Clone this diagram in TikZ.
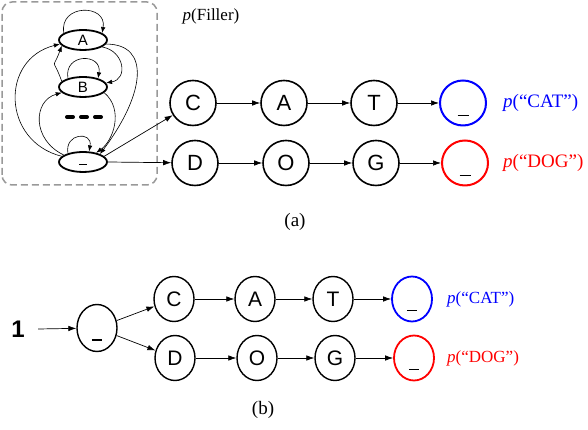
\documentclass[tikz,border=0pt]{standalone}
\usepackage{fontspec}
\setmainfont{Liberation Serif}
\newfontfamily\helv{Liberation Sans}
\usetikzlibrary{shapes.geometric, arrows.meta}
\newcommand{\prob}[1]{\textit{p}(#1)}
\newcommand{\blank}[1][-5.6pt]{\rule[#1]{0.5em}{1.5pt}}

\begin{document}
\begin{tikzpicture}[x=1pt, y=1pt, >={Latex[length=8pt, width=5.5pt]}]
  \tikzset{
    letter/.style={ellipse, draw, line width=1.6pt, minimum width=46pt, minimum height=45pt,
      inner sep=0pt, font=\helv\fontsize{22}{22}\selectfont, text height=15.8pt, text depth=0pt},
    small letter/.style={letter, line width=1.4pt, minimum width=40pt,
      font=\helv\fontsize{21}{21}\selectfont, text height=15pt},
    filler/.style={ellipse, draw, line width=1.8pt, minimum width=48pt, minimum height=20pt,
      inner sep=0pt, font=\helv\fontsize{15}{15}\selectfont, text height=10.7pt, text depth=0pt},
    link/.style={->, line width=0.7pt},
    loop link/.style={-{Latex[length=6pt, width=4.5pt]}, line width=0.6pt},
    word/.style={anchor=west, inner sep=0pt},
    caption/.style={font=\fontsize{19}{19}\selectfont},
  }
  \useasboundingbox (0,0) rectangle (588,430);

  % (a) filler model
  \draw[gray!80, line width=1.5pt, dash pattern=on 7pt off 4pt, rounded corners=10pt]
    (2,245) rectangle (157,428);
  \node[filler] (fA) at (83,390) {A};
  \node[filler] (fB) at (83,343) {B};
  \node[filler] (fU) at (83,268) {\blank[2.2pt]};
  \draw[line width=4pt, line cap=round, dash pattern=on 6pt off 8pt] (67,313) -- (101,313);
  \node[font=\fontsize{17}{17}\selectfont] (fillerLabel) at (211,414) {\prob{Filler}};

  \draw[loop link] (fA.160) to[out=100, in=80, looseness=2] (fA.20);
  \draw[loop link] (fB.150) to[out=100, in=80, looseness=2.2] (fB.30);
  \draw[loop link] (fU.150) to[out=100, in=80, looseness=2.5] (fU.60);
  \draw[loop link] (fA.-20) to[out=-10, in=10, looseness=1.6] (fB.10);
  \draw[loop link] (fB.165) to[out=110, in=-110, looseness=2] (fA.-165);
  \draw[loop link] (fA.-10) .. controls +(45,0) and +(45,60) .. (fU.25);
  \draw[loop link] (fU.165) .. controls +(-60,15) and +(-60,-15) .. (fA.190);
  \draw[loop link] (fB.-15) .. controls +(20,-17) and +(17,12) .. (fU.35);
  \draw[loop link] (fU.160) .. controls +(-32,15) and +(-29,-8) .. (fB.195);

  % (a) words
  \node[letter] (aC) at (193,327) {C};
  \node[letter] (aA) at (284,327) {A};
  \node[letter] (aT) at (374,327) {T};
  \node[letter, draw=blue, line width=2pt] (aCatEnd) at (463,327) {\blank};
  \node[letter] (aD) at (195,267) {D};
  \node[letter] (aO) at (286,267) {O};
  \node[letter] (aG) at (376,267) {G};
  \node[letter, draw=red, line width=2pt] (aDogEnd) at (465,267) {\blank};
  \node[word, text=blue, font=\fontsize{19}{19}\selectfont] (aCatLabel) at (503,327) {\prob{``CAT''}};
  \node[word, text=red, font=\fontsize{19}{19}\selectfont] (aDogLabel) at (503,267) {\prob{``DOG''}};

  \draw[link] (fU.15) -- (aC);
  \draw[link] (fU.east) -- (aD);
  \foreach \from/\to in {aC/aA, aA/aT, aT/aCatEnd, aD/aO, aO/aG, aG/aDogEnd}
    \draw[link] (\from) -- (\to);

  \node[caption] (capA) at (295,208) {(a)};

  % (b) single start state
  \node[font=\helv\bfseries\fontsize{24}{24}\selectfont] (one) at (18,101) {1};
  \node[small letter, minimum height=47pt] (bRoot) at (97,102) {\blank[-5.5pt]};
  \node[small letter] (bC) at (174,131) {C};
  \node[small letter] (bA) at (255,131) {A};
  \node[small letter] (bT) at (333,131) {T};
  \node[small letter, draw=blue, line width=1.8pt] (bCatEnd) at (412,131) {\blank[-5pt]};
  \node[small letter] (bD) at (175,72) {D};
  \node[small letter] (bO) at (257,72) {O};
  \node[small letter] (bG) at (335,72) {G};
  \node[small letter, draw=red, line width=1.8pt] (bDogEnd) at (414,72) {\blank[-5pt]};
  \node[word, text=blue, font=\fontsize{17}{17}\selectfont] (bCatLabel) at (447,131) {\prob{``CAT''}};
  \node[word, text=red, font=\fontsize{17}{17}\selectfont] (bDogLabel) at (447,72) {\prob{``DOG''}};

  \draw[link] ([xshift=10pt]one.east) -- (bRoot);
  \foreach \from/\to in {bRoot/bC, bRoot/bD, bC/bA, bA/bT, bT/bCatEnd, bD/bO, bO/bG, bG/bDogEnd}
    \draw[link] (\from) -- (\to);

  \node[caption] (capB) at (263,20) {(b)};
\end{tikzpicture}
\end{document}
